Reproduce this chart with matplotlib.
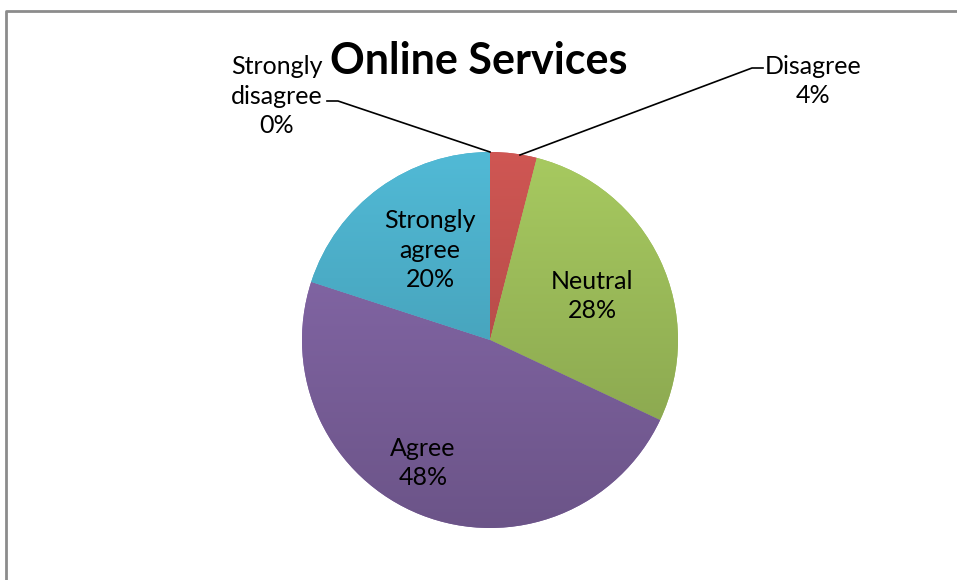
import matplotlib

matplotlib.use("Agg")
import matplotlib.pyplot as plt
import numpy as np
from matplotlib.colors import to_rgb

CATEGORIES = ["Strongly disagree", "Disagree", "Neutral", "Agree", "Strongly agree"]
VALUES = [0, 4, 28, 48, 20]
LABELS = ["Strongly\ndisagree\n0%", "Disagree\n4%", "Neutral\n28%", "Agree\n48%", "Strongly\nagree\n20%"]
COLORS = ["#4F81BD", "#C0504D", "#9BBB59", "#8064A2", "#4BACC6"]
TITLE = "Online Services"

plt.rcParams["font.family"] = ["Lato", "DejaVu Sans"]

W, H = 957, 580
fig = plt.figure(figsize=(W / 100, H / 100), dpi=100)
ax = fig.add_axes([0, 0, 1, 1])

# chart border
ax.plot([6, 6, W + 5], [-5, H - 11, H - 11], color="#8c8c8c", lw=2.0)

cx, cy, r = 490, H - 340, 188
wedges, _ = ax.pie(VALUES, colors=COLORS, startangle=90, counterclock=False,
                   center=(cx, cy), radius=r, frame=True,
                   wedgeprops=dict(linewidth=0))
ax.set_xlim(0, W)
ax.set_ylim(0, H)
ax.set_aspect("equal")
ax.axis("off")

# vertical shading over each slice, lighter on top, darker at bottom
shade = np.linspace(1.08, 0.84, 256)[:, None]
for w, c in zip(wedges, COLORS):
    base = np.array(to_rgb(c))
    img = np.clip(shade[..., None] * base[None, None, :], 0, 1)
    im = ax.imshow(img, extent=(cx - r, cx + r, cy - r, cy + r), origin="upper",
                   zorder=2, aspect="auto")
    im.set_clip_path(w)

txt = dict(fontsize=18, color="black", ha="center", va="center", linespacing=1.36, zorder=5)
ax.text(430, H - 250, LABELS[4], **txt)
ax.text(592, H - 296, LABELS[2], **txt)
ax.text(423, H - 463, LABELS[3], **txt)
ax.text(277, H - 96, LABELS[0], **txt)
ax.text(813, H - 81, LABELS[1], **txt)

# leader lines
ax.plot([327, 338, 490], [H - 101, H - 101, H - 152], color="black", lw=1.2, zorder=6)
ax.plot([520, 752, 763], [H - 155, H - 68, H - 68], color="black", lw=1.2, zorder=6)

ax.text(479, H - 61, TITLE, fontsize=31, fontweight="bold", ha="center", va="center", zorder=5)

fig.savefig("out.png", dpi=100)
